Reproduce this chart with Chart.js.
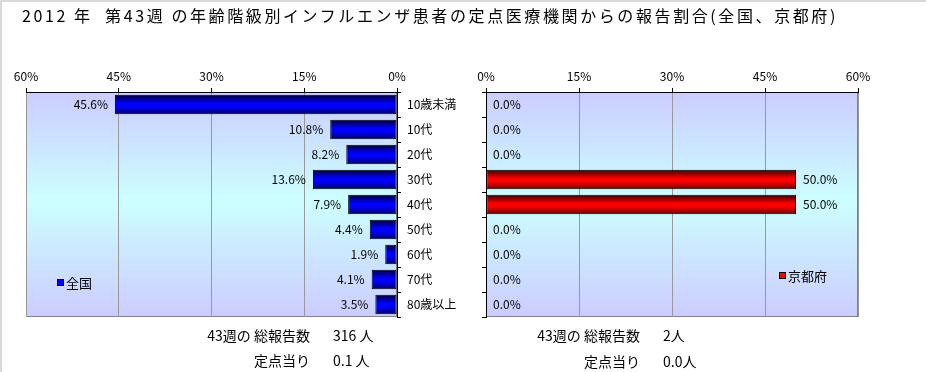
<!DOCTYPE html>
<html>
<head>
<meta charset="utf-8">
<script src="https://cdn.jsdelivr.net/npm/chart.js@4.4.1/dist/chart.umd.min.js"></script>
<style>
  html, body { margin: 0; padding: 0; background: #fff; }
  #wrap { position: relative; width: 926px; height: 372px; overflow: hidden; background: #fff;
          font-family: "Noto Sans CJK JP", "Noto Sans", sans-serif; color: #000; }
  #wrap canvas { position: absolute; left: 0; top: 0; }
  .frame-top { position: absolute; left: 0; top: 0; width: 926px; height: 2px; background: #d9d9d9; }
  .frame-left { position: absolute; left: 0; top: 0; width: 2px; height: 372px; background: #d9d9d9; }
  .txt { position: absolute; white-space: pre; line-height: 18px; height: 18px; }
  .title { left: 22px; top: 6px; font-size: 16px; }
  .r { text-align: right; }
  .leg { position: absolute; font-size: 13px; line-height: 16px; white-space: pre; }
  .leg i { display: inline-block; width: 5px; height: 5px; border: 1px solid #000; margin-right: 2px; vertical-align: 2px; }
</style>
</head>
<body>
<div id="wrap">
  <div class="frame-top"></div>
  <div class="frame-left"></div>
  <canvas id="cL" width="926" height="372"></canvas>
  <canvas id="cR" width="926" height="372"></canvas>
  <div class="txt title"><span id="title"></span></div>
  <div class="leg" id="legL" style="left:57px; top:275px;"></div>
  <div class="leg" id="legR" style="left:779px; top:268px;"></div>
  <div class="txt r" id="l1a" style="right:616px; top:326px; font-size:14px;"></div>
  <div class="txt" id="l1b" style="left:333px; top:326px; font-size:14px;"></div>
  <div class="txt r" id="l2a" style="right:616px; top:351px; font-size:14px;"></div>
  <div class="txt" id="l2b" style="left:333px; top:351px; font-size:14px;"></div>
  <div class="txt r" id="r1a" style="right:286px; top:326px; font-size:14px;"></div>
  <div class="txt" id="r1b" style="left:663px; top:326px; font-size:14px;"></div>
  <div class="txt r" id="r2a" style="right:286px; top:352px; font-size:14px;"></div>
  <div class="txt" id="r2b" style="left:663px; top:352px; font-size:14px;"></div>
</div>
<script>
// ---------- data ----------
const titleText = "2012 年  第43週 の年齢階級別インフルエンザ患者の定点医療機関からの報告割合(全国、京都府)";
const categories = ["10歳未満", "10代", "20代", "30代", "40代", "50代", "60代", "70代", "80歳以上"];
const nationalValues = [45.6, 10.8, 8.2, 13.6, 7.9, 4.4, 1.9, 4.1, 3.5];
const kyotoValues = [0.0, 0.0, 0.0, 50.0, 50.0, 0.0, 0.0, 0.0, 0.0];
const xTicks = [0, 15, 30, 45, 60];
const nationalName = "全国";
const kyotoName = "京都府";
const totalLabel = "43週の 総報告数";
const perPointLabel = "定点当り";
const nationalTotal = "316 人";
const nationalPerPoint = "0.1 人";
const kyotoTotal = "2人";
const kyotoPerPoint = "0.0人";

// ---------- text ----------
const titleEl = document.getElementById('title');
titleEl.textContent = titleText;
(function fitTitle() {
  const target = 816;
  const w = titleEl.getBoundingClientRect().width;
  const n = Array.from(titleText).length;
  if (w > 0 && n > 1) {
    titleEl.style.letterSpacing = ((target - w) / n).toFixed(2) + 'px';
  }
})();
document.getElementById('legL').innerHTML = '<i style="background:#0000ff"></i>' + nationalName;
document.getElementById('legR').innerHTML = '<i style="background:#ff0000"></i>' + kyotoName;
document.getElementById('l1a').textContent = totalLabel;
document.getElementById('l1b').textContent = nationalTotal;
document.getElementById('l2a').textContent = perPointLabel;
document.getElementById('l2b').textContent = nationalPerPoint;
document.getElementById('r1a').textContent = totalLabel;
document.getElementById('r1b').textContent = kyotoTotal;
document.getElementById('r2a').textContent = perPointLabel;
document.getElementById('r2b').textContent = kyotoPerPoint;

// ---------- helpers ----------
const FONT = '"Noto Sans CJK JP", "Noto Sans", sans-serif';
const BAR_PCT = 0.78;

function barGradient(dark1, bright, dark2) {
  return (ctx) => {
    const chart = ctx.chart;
    const y = chart.scales && chart.scales.y;
    if (!y || ctx.type !== 'data' || !isFinite(y.height) || y.height <= 0) return bright;
    const c = y.getPixelForValue(ctx.dataIndex);
    const h = (y.height / categories.length) * BAR_PCT;
    const g = chart.ctx.createLinearGradient(0, c - h / 2, 0, c + h / 2);
    g.addColorStop(0, dark1);
    g.addColorStop(0.45, bright);
    g.addColorStop(0.6, bright);
    g.addColorStop(1, dark2);
    return g;
  };
}

const plotBg = {
  id: 'plotBg',
  beforeDraw(chart) {
    const a = chart.chartArea;
    const c = chart.ctx;
    c.save();
    const g = c.createLinearGradient(0, a.top, 0, a.bottom);
    g.addColorStop(0, '#ccccff');
    g.addColorStop(0.48, '#ccffff');
    g.addColorStop(1, '#ccccff');
    c.fillStyle = g;
    c.fillRect(a.left, a.top, a.right - a.left, a.bottom - a.top);
    c.strokeStyle = '#808080';
    c.lineWidth = 1;
    c.strokeRect(Math.round(a.left) + 0.5, Math.round(a.top) + 0.5,
                 Math.round(a.right - a.left) - 1, Math.round(a.bottom - a.top) - 1);
    c.restore();
  }
};

const valueLabels = {
  id: 'valueLabels',
  afterDatasetsDraw(chart, args, opts) {
    const c = chart.ctx;
    const meta = chart.getDatasetMeta(0);
    const ds = chart.data.datasets[0];
    c.save();
    c.font = '12px ' + FONT;
    c.fillStyle = '#000';
    c.textBaseline = 'middle';
    meta.data.forEach((el, i) => {
      const v = ds.data[i];
      const t = v.toFixed(1) + '%';
      if (opts.side === 'left') {
        c.textAlign = 'right';
        c.fillText(t, el.x - 7, el.y);
      } else {
        c.textAlign = 'left';
        c.fillText(t, el.x + 7, el.y);
      }
    });
    c.restore();
  }
};

function makeOptions(side) {
  const left = side === 'left';
  return {
    indexAxis: 'y',
    responsive: false,
    animation: false,
    devicePixelRatio: 1,
    layout: { padding: left ? { left: 26, right: 0, top: 0, bottom: 55 } : { left: 0, right: 68, top: 0, bottom: 55 } },
    plugins: {
      legend: { display: false },
      tooltip: { enabled: false },
      title: { display: false },
      valueLabels: { side: side }
    },
    scales: {
      x: {
        type: 'linear',
        position: 'top',
        min: 0, max: 60,
        reverse: left,
        afterBuildTicks: (s) => { s.ticks = xTicks.map(v => ({ value: v })); },
        afterFit: (s) => { s.height = 92; },
        ticks: {
          color: '#000',
          font: { family: FONT, size: 12 },
          padding: 4,
          maxRotation: 0,
          callback: (v) => v + '%'
        },
        grid: {
          color: (ctx) => (ctx.tick && ctx.tick.value === 0 ? '#000' : '#999999'),
          tickColor: '#000',
          tickLength: 4,
          lineWidth: 1
        },
        border: { color: '#000', width: 1 }
      },
      y: {
        type: 'category',
        position: left ? 'right' : 'left',
        afterFit: (s) => { s.width = left ? (926 - 397) : 486; },
        ticks: {
          display: left,
          color: '#000',
          font: { family: FONT, size: 12 },
          padding: 6,
          crossAlign: 'near'
        },
        grid: {
          drawOnChartArea: false,
          offset: true,
          tickColor: '#000',
          tickLength: 4
        },
        border: { color: '#000', width: 1 }
      }
    }
  };
}

new Chart(document.getElementById('cL'), {
  type: 'bar',
  data: {
    labels: categories,
    datasets: [{
      label: nationalName,
      data: nationalValues,
      backgroundColor: barGradient('#000033', '#0000ff', '#000066'),
      borderColor: '#000',
      borderWidth: 1,
      borderSkipped: false,
      barPercentage: BAR_PCT,
      categoryPercentage: 1
    }]
  },
  options: makeOptions('left'),
  plugins: [plotBg, valueLabels]
});

new Chart(document.getElementById('cR'), {
  type: 'bar',
  data: {
    labels: categories,
    datasets: [{
      label: kyotoName,
      data: kyotoValues,
      backgroundColor: barGradient('#330000', '#ff0000', '#660000'),
      borderColor: '#000',
      borderWidth: 1,
      borderSkipped: false,
      barPercentage: BAR_PCT,
      categoryPercentage: 1
    }]
  },
  options: makeOptions('right'),
  plugins: [plotBg, valueLabels]
});
</script>
</body>
</html>
